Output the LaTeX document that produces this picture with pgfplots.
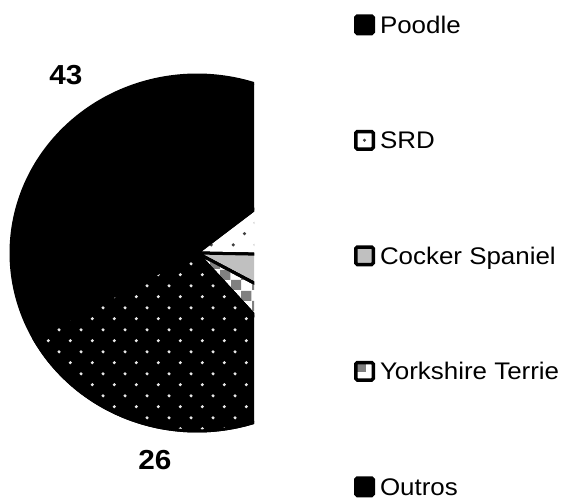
\documentclass[border=0pt]{standalone}
\usepackage{pgfplots}
\pgfplotsset{compat=1.18}
\usepackage{pgfplotstable}
\usetikzlibrary{patterns,patterns.meta}
\usepackage{fontspec}
\setmainfont{Liberation Sans}
\newfontfamily\widefont{Liberation Sans}[FakeStretch=1.08]

\pgfdeclarepattern{
  name=Checker, type=uncolored,
  bottom left={\pgfpointorigin}, top right={\pgfpoint{21pt}{21pt}},
  tile size={\pgfpoint{21pt}{21pt}},
  code={\pgfpathrectangle{\pgfpointorigin}{\pgfpoint{10.5pt}{10.5pt}}
        \pgfpathrectangle{\pgfpoint{10.5pt}{10.5pt}}{\pgfpoint{10.5pt}{10.5pt}}
        \pgfusepath{fill}}
}
\pgfdeclarepattern{
  name=BigDots, type=uncolored,
  bottom left={\pgfpointorigin}, top right={\pgfpoint{21.7pt}{21.7pt}},
  tile size={\pgfpoint{21.7pt}{21.7pt}},
  code={\pgfpathcircle{\pgfpoint{5.4pt}{5.4pt}}{1.75pt}
        \pgfpathcircle{\pgfpoint{16.3pt}{16.3pt}}{1.75pt}
        \pgfusepath{fill}}
}

\definecolor{cockergrey}{HTML}{C0C0C0}
\definecolor{checkgrey}{HTML}{808080}
\definecolor{dotgrey}{HTML}{404040}
\definecolor{dotlight}{HTML}{E8E8E8}

\pgfplotstableread{
breed value
Poodle 43
SRD 10
Cocker 7
Yorkshire 5
Outros 26
}\piedata

\begin{document}%
\begin{tikzpicture}
\pgfplotstablegetelem{0}{value}\of\piedata\let\vA\pgfplotsretval
\pgfplotstablegetelem{1}{value}\of\piedata\let\vB\pgfplotsretval
\pgfplotstablegetelem{2}{value}\of\piedata\let\vC\pgfplotsretval
\pgfplotstablegetelem{3}{value}\of\piedata\let\vD\pgfplotsretval
\pgfplotstablegetelem{4}{value}\of\piedata\let\vE\pgfplotsretval
\pgfmathsetmacro\tot{\vA+\vB+\vC+\vD+\vE}
\pgfmathsetmacro\aA{208.5}
\pgfmathsetmacro\aB{\aA-360*\vA/\tot}
\pgfmathsetmacro\aC{\aB-360*\vB/\tot}
\pgfmathsetmacro\aD{\aC-360*\vC/\tot}
\pgfmathsetmacro\aE{\aD-360*\vD/\tot}
\pgfmathsetmacro\aF{\aE-360*\vE/\tot}
\def\cx{197}\def\cy{246}\def\rx{186}\def\ry{178}
\begin{axis}[
  at={(0,0)}, anchor=south west,
  scale only axis, width=254pt, height=499pt,
  xmin=0, xmax=254, ymin=0, ymax=499,
  xtick=\empty, ytick=\empty, axis lines=none,
  hide axis, clip mode=individual,
  legend cell align=left,
  legend style={at={(axis cs:354,484.75)}, anchor=north west, draw=none, fill=none,
    inner sep=0pt, outer sep=0pt, row sep=94.5pt,
    font=\widefont\fontsize{24}{29}\selectfont,
    nodes={inner sep=0pt, anchor=base west, text height=17pt, text depth=0pt},
    /tikz/every odd column/.append style={column sep=5pt}},
]
\addplot[fill=black, draw=black, line width=3pt, line join=round, domain=\aB:\aA, samples=120, forget plot]
  ({\cx+\rx*cos(x)},{\cy+\ry*sin(x)}) -- (axis cs:\cx,\cy) -- cycle;
\addplot[preaction={fill=white}, pattern=BigDots, pattern color=dotgrey,
  draw=black, line width=3pt, line join=round, domain=\aC:\aB, samples=60, forget plot]
  ({\cx+\rx*cos(x)},{\cy+\ry*sin(x)}) -- (axis cs:\cx,\cy) -- cycle;
\addplot[fill=cockergrey, draw=black, line width=3pt, line join=round, domain=\aD:\aC, samples=60, forget plot]
  ({\cx+\rx*cos(x)},{\cy+\ry*sin(x)}) -- (axis cs:\cx,\cy) -- cycle;
\addplot[preaction={fill=white}, pattern=Checker, pattern color=checkgrey,
  draw=black, line width=3pt, line join=round, domain=\aE:\aD, samples=60, forget plot]
  ({\cx+\rx*cos(x)},{\cy+\ry*sin(x)}) -- (axis cs:\cx,\cy) -- cycle;
\addplot[preaction={fill=black}, pattern=BigDots, pattern color=dotlight,
  draw=black, line width=3pt, line join=round, domain=\aF:\aE, samples=100, forget plot]
  ({\cx+\rx*cos(x)},{\cy+\ry*sin(x)}) -- (axis cs:\cx,\cy) -- cycle;

\addlegendimage{legend image code/.code={\draw[black, fill=black, line width=3.5pt, rounded corners=1.5pt] (1.75pt,-0.15pt) rectangle (19.25pt,17.35pt);}}
\addlegendentry{Poodle}
\addlegendimage{legend image code/.code={\draw[black, fill=white, line width=3.5pt, rounded corners=1.5pt] (1.75pt,-0.15pt) rectangle (19.25pt,17.35pt);
  \fill[dotgrey] (10.5pt,8.6pt) circle (1.3pt);}}
\addlegendentry{SRD}
\addlegendimage{legend image code/.code={\draw[black, fill=cockergrey, line width=3.5pt, rounded corners=1.5pt] (1.75pt,-0.15pt) rectangle (19.25pt,17.35pt);}}
\addlegendentry{Cocker Spaniel}
\addlegendimage{legend image code/.code={\fill[white] (1.75pt,-0.15pt) rectangle (19.25pt,17.35pt);
  \fill[checkgrey] (3.5pt,8.6pt) rectangle (11pt,15.6pt);
  \draw[black, line width=3.5pt, rounded corners=1.5pt] (1.75pt,-0.15pt) rectangle (19.25pt,17.35pt);}}
\addlegendentry{Yorkshire Terrie}
\addlegendimage{legend image code/.code={\draw[black, fill=black, line width=3.5pt, rounded corners=1.5pt] (1.75pt,-0.15pt) rectangle (19.25pt,17.35pt);}}
\addlegendentry{Outros}

\node[font=\widefont\bfseries\fontsize{27.5}{33}\selectfont] at (axis cs:66,424) {43};
\node[font=\widefont\bfseries\fontsize{27.5}{33}\selectfont] at (axis cs:155,39) {26};
\end{axis}
\pgfresetboundingbox
\path[use as bounding box] (0,0) rectangle (573pt,499pt);
\end{tikzpicture}%
\end{document}
